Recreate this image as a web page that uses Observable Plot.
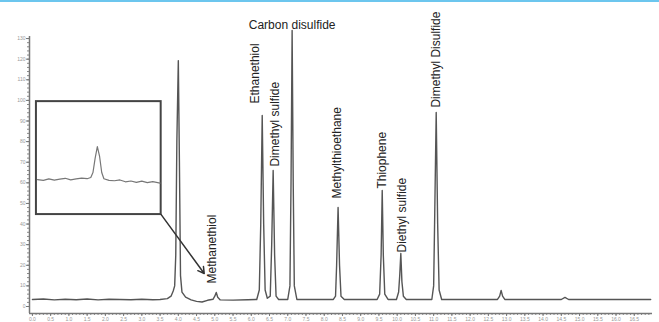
<!DOCTYPE html>
<html><head><meta charset="utf-8">
<script src="https://cdn.jsdelivr.net/npm/d3@7"></script>
<script src="https://cdn.jsdelivr.net/npm/@observablehq/plot@0.6"></script>
<style>
body{margin:0;background:#fff}
#topline{height:2px;background:#6cc6ee}
</style>
</head><body><div id="topline"></div><div id="chart"></div>
<script>
// Chromatogram: [retention time (min), response]
const chromatogram = [
  [0,3.4],[0.3,3.6],[0.6,3.2],[0.9,3.5],[1.2,3.3],[1.5,3.6],[1.8,3.2],[2.1,3.5],[2.4,3.4],[2.7,3.3],
  [3.0,3.5],[3.3,3.3],[3.5,3.4],[3.7,3.8],[3.8,5.0],[3.86,7.5],[3.9,10],[3.93,25],[3.96,80],[4.0,119.3],
  [4.03,70],[4.06,15],[4.1,7],[4.2,4.5],[4.35,3.2],[4.5,2.5],[4.65,2.2],[4.8,3.0],[4.95,3.5],[5.0,5.0],
  [5.04,6.8],[5.08,4.5],[5.15,3.2],[5.5,3.1],[5.9,3.3],[6.15,3.4],[6.22,8],[6.26,40],[6.30,92.7],[6.34,40],
  [6.38,8],[6.44,4],[6.52,5],[6.56,30],[6.60,66.0],[6.64,25],[6.68,5],[6.75,3.4],[7.0,3.4],[7.06,10],
  [7.09,60],[7.12,133.9],[7.15,60],[7.18,10],[7.25,3.4],[8.25,3.4],[8.31,5],[8.34,20],[8.38,48],[8.42,20],
  [8.46,5],[8.55,3.4],[9.45,3.4],[9.52,6],[9.56,25],[9.59,56.3],[9.62,25],[9.66,6],[9.75,3.4],[9.98,3.4],
  [10.04,7],[10.07,15],[10.1,25.7],[10.13,12],[10.17,5],[10.25,3.4],[10.95,3.4],[11.0,10],[11.03,45],[11.07,94.1],
  [11.11,40],[11.15,8],[11.22,3.4],[12.75,3.4],[12.81,5],[12.85,7.8],[12.89,5],[12.95,3.4],[14.5,3.4],[14.6,4.4],
  [14.7,3.4],[16.95,3.4]
];
// Inset (magnified Methanethiol peak), drawn in the chart's data units
const insetSignal = [
  [0.14,61.6],[0.3,61.2],[0.45,61.9],[0.6,61.3],[0.75,61.8],[0.9,62.2],[1.05,61.4],[1.2,61.9],[1.35,62.3],
  [1.5,62.0],[1.6,62.6],[1.66,65],[1.72,72],[1.78,77.6],[1.84,73],[1.9,65],[1.96,62.0],[2.1,61.2],[2.25,61.0],
  [2.4,61.4],[2.55,60.5],[2.7,60.9],[2.85,60.2],[3.0,60.8],[3.15,60.1],[3.3,60.6],[3.5,59.9]
];
const insetBox = {x1: 0.11, x2: 3.53, y1: 44.6, y2: 99.4};
const insetArrow = {x1: 3.53, y1: 44.6, x2: 4.71, y2: 16.0};

const peakNames = ["Methanethiol","Ethanethiol","Dimethyl sulfide","Methylthioethane","Thiophene","Diethyl sulfide","Dimethyl Disulfide"];
const peakLabelTime = [4.93, 6.11, 6.66, 8.36, 9.59, 10.14, 11.07];
const peakLabelValue = [11.2, 98.5, 67.9, 52.4, 57.2, 26.2, 96.5];
const topPeakName = "Carbon disulfide";
const topPeakTime = 7.12;
const topPeakValue = 136.4;

const xTickValues = [0,0.5,1,1.5,2,2.5,3,3.5,4,4.5,5,5.5,6,6.5,7,7.5,8,8.5,9,9.5,10,10.5,11,11.5,12,12.5,13,13.5,14,14.5,15,15.5,16,16.5];
const yTickValues = [0,10,20,30,40,50,60,70,80,90,100,110,120,130];
const xDomain = [-0.08, 17];
const yDomain = [-3.4, 131];

const xMinor = d3.range(0, 16.95, 0.1);
const yMinor = d3.range(0, 131, 2);

const labels = peakNames.map((n, i) => ({name: n, t: peakLabelTime[i], v: peakLabelValue[i]}));

const chart = Plot.plot({
  width: 659,
  height: 320,
  marginLeft: 29,
  marginRight: 7,
  marginTop: 34,
  marginBottom: 9,
  x: {domain: xDomain},
  y: {domain: yDomain},
  style: {fontFamily: "'Liberation Sans', Arial, sans-serif", background: "white", overflow: "visible"},
  marks: [
    Plot.axisX({ticks: xMinor, tickSize: 2, text: null, stroke: "#888"}),
    Plot.axisX({ticks: xTickValues, tickSize: 3, tickPadding: 1, fontSize: 5, fill: "#999", stroke: "#777",
      tickFormat: d => d.toFixed(1), label: null}),
    Plot.axisY({ticks: yMinor, tickSize: 2, text: null, stroke: "#888"}),
    Plot.axisY({ticks: yTickValues, tickSize: 3, tickPadding: 1, fontSize: 5, fill: "#999", stroke: "#777", label: null}),
    Plot.ruleX([xDomain[0]], {stroke: "#777", strokeWidth: 1.5}),
    Plot.ruleY([yDomain[0]], {stroke: "#777", strokeWidth: 1.5}),
    Plot.line(chromatogram, {x: d => d[0], y: d => d[1], stroke: "#555", strokeWidth: 1.4}),
    Plot.rect([insetBox], {x1: "x1", x2: "x2", y1: "y1", y2: "y2", fill: "none", stroke: "#444", strokeWidth: 2}),
    Plot.line(insetSignal, {x: d => d[0], y: d => d[1], stroke: "#777", strokeWidth: 1.2}),
    Plot.arrow([insetArrow], {x1: "x1", y1: "y1", x2: "x2", y2: "y2", stroke: "#333", strokeWidth: 1.5, headLength: 7}),
    Plot.text(labels, {x: "t", y: "v", text: "name", rotate: -90, textAnchor: "start", fontSize: 12, fill: "#222"}),
    Plot.text([topPeakName], {x: [topPeakTime], y: [topPeakValue], text: d => d, textAnchor: "middle", fontSize: 12, fill: "#222"})
  ]
});
document.getElementById("chart").appendChild(chart);
</script>
</body></html>
